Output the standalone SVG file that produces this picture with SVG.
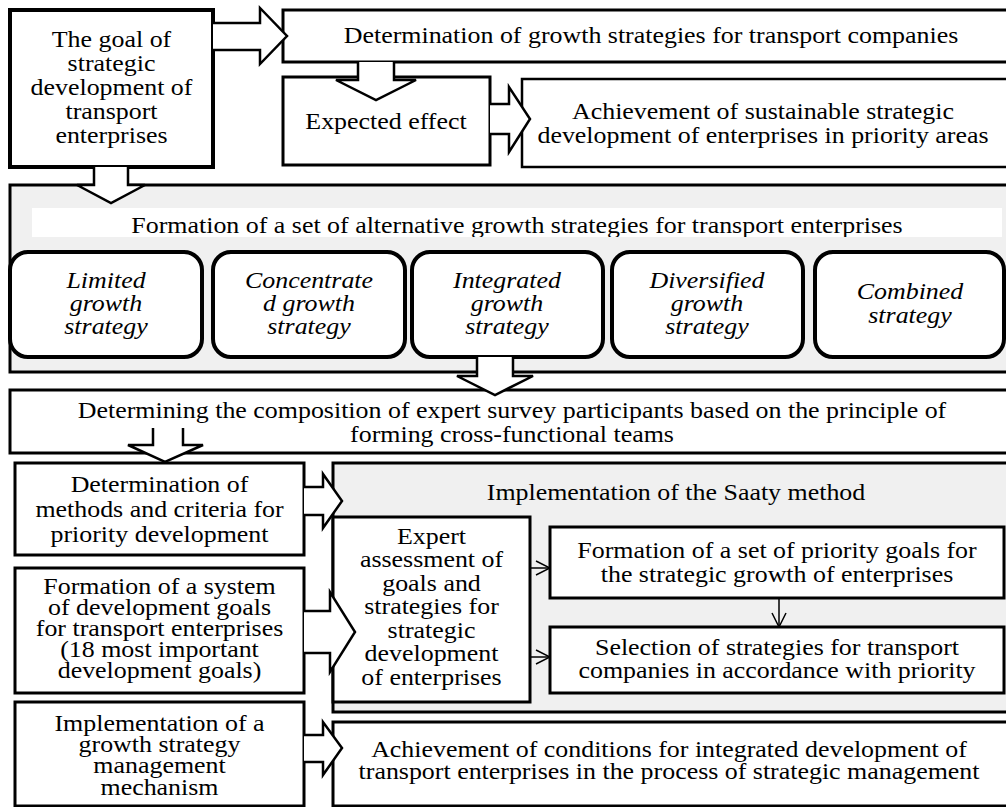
<svg xmlns="http://www.w3.org/2000/svg" width="1006" height="807" viewBox="0 0 1006 807">
<style>
text{font-family:"Liberation Serif","Times New Roman",serif;font-size:24px;fill:#000;text-anchor:middle}
.it{font-style:italic}
.box{fill:#fff;stroke:#000;stroke-width:3}
.thick{fill:#fff;stroke:#000;stroke-width:4}
.thin{fill:#fff;stroke:#000;stroke-width:2.5}
.panel{fill:#f0f0f0;stroke:#000;stroke-width:3}
.rbox{fill:#fff;stroke:#000;stroke-width:4}
.barrow{fill:#fff;stroke:#000;stroke-width:2.5;stroke-linejoin:miter}
.ln{stroke:#000;stroke-width:1.5;fill:none}
</style>
<defs>
<marker id="open" markerUnits="userSpaceOnUse" markerWidth="16" markerHeight="16" viewBox="0 0 16 16" refX="15" refY="8" orient="auto">
<path d="M1,1 L15,8 L1,15" fill="none" stroke="#000" stroke-width="1.5"/>
</marker>
<clipPath id="clipStrip"><rect x="32" y="208" width="970" height="29"/></clipPath>
<clipPath id="clipDet"><rect x="10" y="390" width="1000" height="62"/></clipPath>
</defs>

<g id="panel-formation">
<rect class="panel" x="10" y="185" width="1000" height="187"/>
<rect x="32" y="208" width="970" height="29" fill="#fff"/>
<g clip-path="url(#clipStrip)">
<text transform="matrix(1.08 0 0 1 517 0)" x="0" y="233">Formation of a set of alternative growth strategies for transport enterprises</text>
</g>
</g>

<g id="goal">
<rect class="thick" x="10" y="10" width="203" height="157"/>
<text transform="matrix(1.08 0 0 1 111.5 0)"><tspan x="0" y="47">The goal of</tspan><tspan x="0" y="71">strategic</tspan><tspan x="0" y="95">development of</tspan><tspan x="0" y="119">transport</tspan><tspan x="0" y="143">enterprises</tspan></text>
</g>

<g id="determination-growth">
<rect class="box" x="283" y="10" width="727" height="52"/>
<text transform="matrix(1.08 0 0 1 651 0)" x="0" y="43">Determination of growth strategies for transport companies</text>
</g>

<g id="expected-effect">
<rect class="box" x="283" y="77" width="207" height="88"/>
<text transform="matrix(1.08 0 0 1 386 0)" x="0" y="129">Expected effect</text>
</g>

<g id="achievement-sustainable">
<rect class="thin" x="522" y="79" width="488" height="88"/>
<text transform="matrix(1.08 0 0 1 763 0)"><tspan x="0" y="119">Achievement of sustainable strategic</tspan><tspan x="0" y="143">development of enterprises in priority areas</tspan></text>
</g>

<g id="strategy-limited">
<rect class="rbox" x="10" y="252" width="192" height="105" rx="18"/>
<text class="it" transform="matrix(1.08 0 0 1 106 0)"><tspan x="0" y="288">Limited</tspan><tspan x="0" y="311">growth</tspan><tspan x="0" y="334">strategy</tspan></text>
</g>
<g id="strategy-concentrated">
<rect class="rbox" x="213" y="252" width="192" height="105" rx="18"/>
<text class="it" transform="matrix(1.08 0 0 1 309 0)"><tspan x="0" y="288">Concentrate</tspan><tspan x="0" y="311">d growth</tspan><tspan x="0" y="334">strategy</tspan></text>
</g>
<g id="strategy-integrated">
<rect class="rbox" x="412" y="252" width="191" height="105" rx="18"/>
<text class="it" transform="matrix(1.08 0 0 1 507 0)"><tspan x="0" y="288">Integrated</tspan><tspan x="0" y="311">growth</tspan><tspan x="0" y="334">strategy</tspan></text>
</g>
<g id="strategy-diversified">
<rect class="rbox" x="612" y="252" width="191" height="105" rx="18"/>
<text class="it" transform="matrix(1.08 0 0 1 707 0)"><tspan x="0" y="288">Diversified</tspan><tspan x="0" y="311">growth</tspan><tspan x="0" y="334">strategy</tspan></text>
</g>
<g id="strategy-combined">
<rect class="rbox" x="815" y="252" width="189" height="105" rx="18"/>
<text class="it" transform="matrix(1.08 0 0 1 910 0)"><tspan x="0" y="299">Combined</tspan><tspan x="0" y="323">strategy</tspan></text>
</g>

<g id="determining-composition">
<rect class="box" x="10" y="390" width="1000" height="63"/>
<g clip-path="url(#clipDet)">
<text transform="matrix(1.08 0 0 1 512 0)"><tspan x="0" y="418">Determining the composition of expert survey participants based on the principle of</tspan><tspan x="0" y="442">forming cross-functional teams</tspan></text>
</g>
</g>

<g id="methods-criteria">
<rect class="box" x="15" y="463" width="289" height="92"/>
<text transform="matrix(1.08 0 0 1 159.5 0)"><tspan x="0" y="492">Determination of</tspan><tspan x="0" y="517">methods and criteria for</tspan><tspan x="0" y="542">priority development</tspan></text>
</g>

<g id="development-goals">
<rect class="box" x="15" y="568" width="289" height="125"/>
<text transform="matrix(1.08 0 0 1 159.5 0)"><tspan x="0" y="594">Formation of a system</tspan><tspan x="0" y="615">of development goals</tspan><tspan x="0" y="636">for transport enterprises</tspan><tspan x="0" y="657">(18 most important</tspan><tspan x="0" y="678">development goals)</tspan></text>
</g>

<g id="implementation-mechanism">
<rect class="box" x="15" y="702" width="289" height="104"/>
<text transform="matrix(1.08 0 0 1 159.5 0)"><tspan x="0" y="731">Implementation of a</tspan><tspan x="0" y="752">growth strategy</tspan><tspan x="0" y="773">management</tspan><tspan x="0" y="795">mechanism</tspan></text>
</g>

<g id="saaty-panel">
<rect class="panel" x="333" y="463" width="677" height="249"/>
<text transform="matrix(1.08 0 0 1 676 0)" x="0" y="500">Implementation of the Saaty method</text>
</g>

<g id="expert-assessment">
<rect class="box" x="333" y="517" width="197" height="185"/>
<text transform="matrix(1.08 0 0 1 431.5 0)"><tspan x="0" y="544">Expert</tspan><tspan x="0" y="567">assessment of</tspan><tspan x="0" y="591">goals and</tspan><tspan x="0" y="614">strategies for</tspan><tspan x="0" y="638">strategic</tspan><tspan x="0" y="661">development</tspan><tspan x="0" y="685">of enterprises</tspan></text>
</g>

<g id="priority-goals">
<rect class="box" x="550" y="527" width="454" height="71"/>
<text transform="matrix(1.08 0 0 1 777 0)"><tspan x="0" y="558">Formation of a set of priority goals for</tspan><tspan x="0" y="582">the strategic growth of enterprises</tspan></text>
</g>

<g id="selection-strategies">
<rect class="box" x="550" y="627" width="454" height="66"/>
<text transform="matrix(1.08 0 0 1 777 0)"><tspan x="0" y="655">Selection of strategies for transport</tspan><tspan x="0" y="678">companies in accordance with priority</tspan></text>
</g>

<g id="achievement-conditions">
<rect class="box" x="333" y="722" width="677" height="84"/>
<text transform="matrix(1.08 0 0 1 669 0)"><tspan x="0" y="757">Achievement of conditions for integrated development of</tspan><tspan x="0" y="779">transport enterprises in the process of strategic management</tspan></text>
</g>

<g id="connectors">
<path class="barrow" d="M213,23 H260 V8 L287,36 L260,64 V50 H213"/>
<path class="barrow" d="M358,62 V80 H336 L376,100 L416,80 H394 V62"/>
<path class="barrow" d="M490,104 H509 V87 L530,119 L509,152 V134 H490"/>
<path class="barrow" d="M94,167 V185 H77 L111,203 L145,185 H128 V167"/>
<path class="barrow" d="M477,357 V376 H457 L495,395 L533,376 H513 V357"/>
<path class="barrow" d="M153,428 V445 H128 L165,462 L203,445 H183 V428"/>
<path class="barrow" d="M304,487 H323 V474 L342,501 L323,528 V515 H304"/>
<path class="barrow" d="M304,611 H330 V592 L355,632 L330,672 V653 H304"/>
<path class="barrow" d="M304,735 H323 V722 L342,748 L323,775 V762 H304"/>
<line class="ln" x1="530" y1="568" x2="550" y2="568" marker-end="url(#open)"/>
<line class="ln" x1="530" y1="657" x2="550" y2="657" marker-end="url(#open)"/>
<line class="ln" x1="779" y1="598" x2="779" y2="627" marker-end="url(#open)"/>
</g>
</svg>
